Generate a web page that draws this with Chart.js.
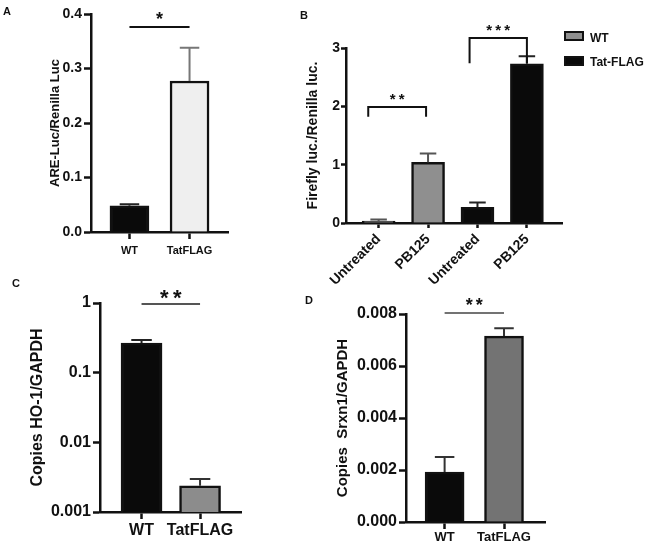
<!DOCTYPE html>
<html>
<head>
<meta charset="utf-8">
<script src="https://cdn.jsdelivr.net/npm/chart.js@4.4.1/dist/chart.umd.min.js"></script>
<style>
body{margin:0;background:#fff;}
#fig{position:relative;width:645px;height:550px;overflow:hidden;background:#fff;}
#fig canvas{position:absolute;}
.tag{position:absolute;font:bold 11px 'Liberation Sans',Arial,sans-serif;line-height:11px;color:#111;}
</style>
</head>
<body>
<div id="fig">
  <canvas id="chartA" width="260" height="270" style="left:0;top:0"></canvas>
  <canvas id="chartB" width="385" height="300" style="left:260px;top:0"></canvas>
  <canvas id="chartC" width="260" height="280" style="left:0;top:270px"></canvas>
  <canvas id="chartD" width="345" height="280" style="left:300px;top:270px"></canvas>
  <div class="tag" style="left:3px;top:6px">A</div>
  <div class="tag" style="left:300px;top:10px">B</div>
  <div class="tag" style="left:12px;top:278px">C</div>
  <div class="tag" style="left:305px;top:295px">D</div>
</div>
<script>
// panel A
const labelsA = ['WT', 'TatFLAG'];
const valuesA = [0.048, 0.277];
const errorsA = [0.003, 0.061];
const sigA = [{from: 0, to: 1, y: 0.376, text: '*'}];

// panel B
const labelsB = ['Untreated', 'PB125', 'Untreated', 'PB125'];
const seriesB = ['WT', 'Tat-FLAG'];
const wtB = [0.035, 1.04, null, null];
const tatB = [null, null, 0.27, 2.73];
const errWtB = [0.025, 0.15, null, null];
const errTatB = [null, null, 0.08, 0.13];
const sigB = [
    {from: -0.21, to: 0.96, y: 1.99, drop: 1.82, text: '**'},
    {from: 1.84, to: 3, y: 3.17, drop: 2.74, text: '***'}
];

// panel C (log axis)
const labelsC = ['WT', 'TatFLAG'];
const valuesC = [0.265, 0.00238];
const errorsC = [0.03, 0.0006];
const ticksC = [0.001, 0.01, 0.1, 1];
const sigC = [{from: 0, to: 1, y: 0.967, text: '**'}];

// panel D
const labelsD = ['WT', 'TatFLAG'];
const valuesD = [0.00192, 0.00715];
const errorsD = [0.00058, 0.0003];
const sigD = [{from: 0, to: 1, y: 0.00804, text: '**'}];

Chart.defaults.font.family = "'Liberation Sans', Arial, sans-serif";
Chart.defaults.font.weight = 'bold';
Chart.defaults.color = '#111';

const toPoints = arr => arr.map((v, i) => ({x: i, y: v}));

// upper error bars (mean + SEM)
const errorBars = {
    id: 'errorBars',
    afterDatasetsDraw(chart){
        const ctx = chart.ctx, y = chart.scales.y;
        chart.data.datasets.forEach((ds, di)=>{
            const meta = chart.getDatasetMeta(di);
            meta.data.forEach((bar, i)=>{
                const v = ds.data[i].y, err = ds.errors[i];
                if(v == null || err == null) return;
                const top = y.getPixelForValue(v + err);
                const cap = ds.barThickness * 0.5;
                ctx.save();
                ctx.strokeStyle = Array.isArray(ds.errorColor) ? ds.errorColor[i] : ds.errorColor;
                ctx.lineWidth = 2;
                ctx.beginPath();
                ctx.moveTo(bar.x, bar.y); ctx.lineTo(bar.x, top);
                ctx.moveTo(bar.x - cap/2, top); ctx.lineTo(bar.x + cap/2, top);
                ctx.stroke();
                ctx.restore();
            });
        });
    }
};

// significance lines / brackets with stars
const sigMarks = {
    id: 'sigMarks',
    afterDraw(chart, args, opts){
        if(!opts.marks) return;
        const {ctx, scales: {x, y}} = chart;
        opts.marks.forEach(m=>{
            const x1 = x.getPixelForValue(m.from), x2 = x.getPixelForValue(m.to), yy = y.getPixelForValue(m.y);
            ctx.save();
            ctx.strokeStyle = opts.color; ctx.lineWidth = opts.width;
            ctx.beginPath();
            if(m.drop != null){
                const yd = y.getPixelForValue(m.drop);
                ctx.moveTo(x1, yd); ctx.lineTo(x1, yy); ctx.lineTo(x2, yy); ctx.lineTo(x2, yd);
            } else {
                ctx.moveTo(x1, yy); ctx.lineTo(x2, yy);
            }
            ctx.stroke();
            ctx.fillStyle = '#111';
            ctx.font = `bold ${opts.size}px 'Liberation Sans', Arial, sans-serif`;
            ctx.textAlign = 'center'; ctx.textBaseline = 'alphabetic';
            const cx = (x1 + x2) / 2, n = m.text.length;
            for(let k = 0; k < n; k++) ctx.fillText(m.text[k], cx + (k - (n-1)/2) * opts.gap, yy - opts.lift);
            ctx.restore();
        });
    }
};

// simple box legend for panel B
const boxLegend = {
    id: 'boxLegend',
    afterDraw(chart, args, opts){
        if(!opts.show) return;
        const ctx = chart.ctx;
        chart.data.datasets.forEach((ds, i)=>{
            const y0 = opts.top + i * opts.step;
            ctx.save();
            ctx.fillStyle = ds.backgroundColor;
            ctx.fillRect(opts.left, y0, opts.boxW, opts.boxH);
            ctx.strokeStyle = '#111'; ctx.lineWidth = 2;
            ctx.strokeRect(opts.left, y0, opts.boxW, opts.boxH);
            ctx.fillStyle = '#111';
            ctx.font = `bold ${opts.size}px 'Liberation Sans', Arial, sans-serif`;
            ctx.textBaseline = 'middle';
            ctx.fillText(ds.label, opts.textX, y0 + opts.boxH/2 + opts.textDy[i]);
            ctx.restore();
        });
    }
};

function axisStyle(tickLen){
    return {
        grid: {drawOnChartArea: false, drawTicks: true, tickLength: tickLen, tickWidth: 2.5, tickColor: '#111', color: '#111', offset: false},
        border: {display: true, color: '#111', width: 2.5}
    };
}

function xAxis(labels, min, max, o){
    return Object.assign({
        type: 'linear', min: min, max: max, offset: false, bounds: 'data',
        afterBuildTicks: s=>{ s.ticks = labels.map((_, i)=>({value: i})); },
        afterFit: s=>{ s.height = o.height; },
        ticks: {callback: v=>labels[v], autoSkip: false, font: {size: o.font}, padding: o.pad,
                minRotation: o.rot || 0, maxRotation: o.rot || 0, color: '#111'}
    }, axisStyle(o.tick));
}

function yAxis(o){
    return Object.assign({
        afterFit: s=>{ s.width = o.width; },
        ticks: Object.assign({font: {size: o.font}, padding: o.pad, color: '#111'}, o.ticks),
        title: {display: true, text: o.title, color: '#111', font: {size: o.titleSize}, padding: {top: o.titlePad, bottom: 0}}
    }, o.scale, axisStyle(o.tick));
}

function barSet(label, values, errors, colors, errColors, thick){
    return {
        label: label, data: toPoints(values), errors: errors,
        backgroundColor: colors, borderColor: '#111', borderWidth: 2.5,
        barThickness: thick, grouped: false, errorColor: errColors
    };
}

function baseOptions(padding, scales, plugins){
    return {
        responsive: false, animation: false, devicePixelRatio: 1, events: [],
        layout: {padding: padding},
        scales: scales,
        plugins: Object.assign({legend: {display: false}, tooltip: {enabled: false}}, plugins)
    };
}

// A
new Chart(document.getElementById('chartA'), {
    type: 'bar',
    data: {datasets: [barSet('A', valuesA, errorsA, ['#0a0a0a', '#efefef'], ['#222', '#777'], 39)]},
    options: baseOptions({left: 0, top: 14, right: 32, bottom: 0}, {
        x: xAxis(labelsA, -0.64, 1.64, {height: 38, font: 11, pad: 5, tick: 7}),
        y: yAxis({width: 91, font: 14, pad: 2, tick: 7, title: 'ARE-Luc/Renilla Luc', titleSize: 13, titlePad: 48,
                  scale: {min: 0, max: 0.4}, ticks: {stepSize: 0.1, callback: v=>v.toFixed(1)}})
    }, {sigMarks: {marks: sigA, color: '#111', width: 2, size: 18, gap: 9, lift: 2}}),
    plugins: [errorBars, sigMarks]
});

// B
new Chart(document.getElementById('chartB'), {
    type: 'bar',
    data: {datasets: [
        barSet(seriesB[0], wtB, errWtB, '#8f8f8f', '#555', 33),
        barSet(seriesB[1], tatB, errTatB, '#0a0a0a', '#222', 33)
    ]},
    options: baseOptions({left: 0, top: 48, right: 83, bottom: 0}, {
        x: xAxis(labelsB, -0.66, 3.71, {height: 77, font: 14, pad: 3, tick: 5, rot: 45}),
        y: yAxis({width: 86, font: 14, pad: 1, tick: 5, title: 'Firefly luc./Renilla luc.', titleSize: 14, titlePad: 45,
                  scale: {min: 0, max: 3}, ticks: {stepSize: 1}})
    }, {
        sigMarks: {marks: sigB, color: '#111', width: 2, size: 15, gap: 9, lift: 3},
        boxLegend: {show: true, left: 305, top: 32, step: 25, boxW: 18, boxH: 8, textX: 330, size: 12, textDy: [3, 2]}
    }),
    plugins: [errorBars, sigMarks, boxLegend]
});

// C
new Chart(document.getElementById('chartC'), {
    type: 'bar',
    data: {datasets: [barSet('C', valuesC, errorsC, ['#0a0a0a', '#8c8c8c'], ['#222', '#333'], 41)]},
    options: baseOptions({left: 0, top: 33, right: 19, bottom: 0}, {
        x: xAxis(labelsC, -0.71, 1.7, {height: 38, font: 16, pad: 2, tick: 7}),
        y: yAxis({width: 100, font: 16, pad: 2, tick: 7, title: 'Copies HO-1/GAPDH', titleSize: 16, titlePad: 28,
                  scale: {type: 'logarithmic', min: 0.001, max: 1,
                          afterBuildTicks: s=>{ s.ticks = ticksC.map(v=>({value: v})); }},
                  ticks: {callback: v=>String(v)}})
    }, {sigMarks: {marks: sigC, color: '#555', width: 2, size: 22, gap: 13, lift: -1}}),
    plugins: [errorBars, sigMarks]
});

// D
new Chart(document.getElementById('chartD'), {
    type: 'bar',
    data: {datasets: [barSet('D', valuesD, errorsD, ['#0a0a0a', '#737373'], ['#333', '#333'], 39)]},
    options: baseOptions({left: 0, top: 44, right: 100, bottom: 0}, {
        x: xAxis(labelsD, -0.65, 1.69, {height: 28, font: 13, pad: 1, tick: 7}),
        y: yAxis({width: 106, font: 16, pad: 2, tick: 7, title: 'Copies  Srxn1/GAPDH', titleSize: 15, titlePad: 34,
                  scale: {min: 0, max: 0.008}, ticks: {stepSize: 0.002, callback: v=>v.toFixed(3)}})
    }, {sigMarks: {marks: sigD, color: '#444', width: 1.5, size: 18, gap: 10, lift: 2}}),
    plugins: [errorBars, sigMarks]
});
</script>
</body>
</html>
